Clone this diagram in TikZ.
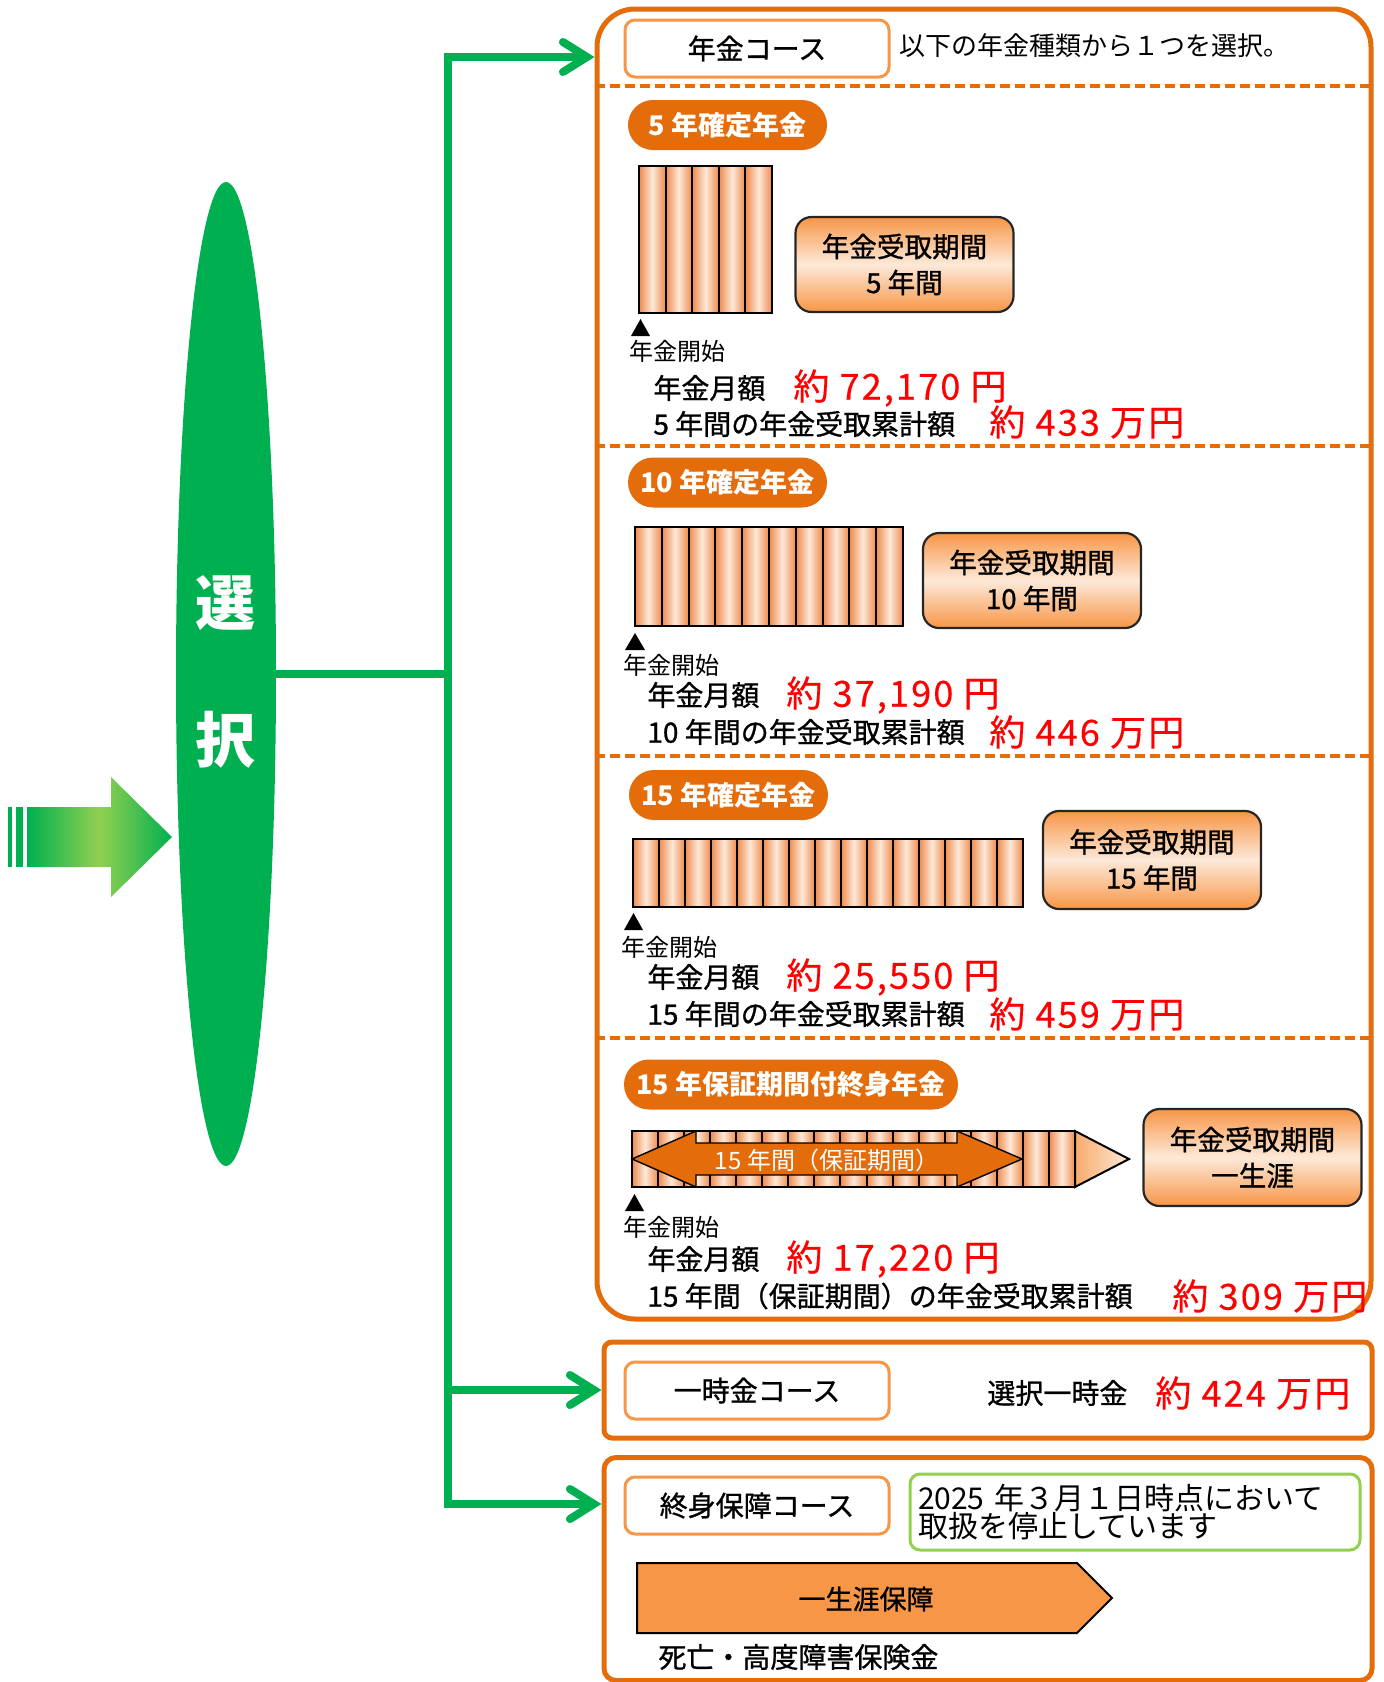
\documentclass[tikz,border=0pt]{standalone}
\usepackage{fontspec}
\setmainfont{Noto Sans CJK JP}
\newfontfamily\medfont[FakeBold=1]{Noto Sans CJK JP}
\newfontfamily\amtfont[LetterSpace=6,FakeBold=0.4]{Noto Sans CJK JP}
\usetikzlibrary{arrows.meta,shapes.geometric}
\definecolor{grn}{HTML}{00B050}
\definecolor{ltgrn}{HTML}{92D050}
\definecolor{org}{HTML}{E46C0A}
\definecolor{ltorg}{HTML}{F79646}
\definecolor{pale}{HTML}{FDE9D9}
\definecolor{bardk}{HTML}{EE8A4E}

\begin{document}
\begin{tikzpicture}[x=0.5pt,y=-0.5pt,
  flow/.style={draw=grn,line width=4pt,-{Straight Barb[length=12pt,width=15pt,line cap=round]}},
  trunk/.style={draw=grn,line width=4pt},
  bigbox/.style={draw=org,line width=2.5pt,minimum width=384pt},
  sepline/.style={draw=org,line width=2pt,dash pattern=on 5pt off 2.5pt},
  course/.style={draw=ltorg,line width=1.5pt,fill=white,rounded corners=5pt,minimum width=132pt,minimum height=28.5pt,font=\medfont\fontsize{14}{16}\selectfont},
  pill/.style={fill=org,rounded corners=12.5pt,minimum width=99.5pt,minimum height=25pt,text=white,font=\bfseries\fontsize{13.5}{15}\selectfont},
  period/.style={draw=black!85,line width=1.1pt,rounded corners=8pt,top color=ltorg,bottom color=ltorg,middle color=pale,minimum width=109pt,minimum height=47.5pt,align=center,font=\medfont\fontsize{13.8}{18}\selectfont},
  bar/.style={draw=black,line width=1pt,left color=bardk,right color=bardk,middle color=pale},
  start/.style={anchor=west,inner sep=0pt,font=\fontsize{12}{13}\selectfont},
  lbl/.style={anchor=west,inner sep=0pt,font=\medfont\fontsize{14}{16}\selectfont},
  amount/.style={anchor=west,inner sep=0pt,text=red,font=\amtfont\fontsize{18}{20}\selectfont}]
  \useasboundingbox (0,0) rectangle (1384,1682);

  \fill[grn] (8,807) rectangle (12,867);
  \fill[grn] (16,807) rectangle (23,867);
  \shade[left color=grn,right color=grn,middle color=ltgrn] (27,807) -- (111,807) -- (111,777) -- (172,837) -- (111,897) -- (111,867) -- (27,867) -- cycle;

  \node[ellipse,fill=grn,minimum width=50pt,minimum height=492pt,inner sep=0pt] (select) at (226,674) {};
  \node[text=white,font=\bfseries\fontsize{30}{32}\selectfont] (sel1) at (225,603) {選};
  \node[text=white,font=\bfseries\fontsize{30}{32}\selectfont] (sel2) at (225,740) {択};

  \node[bigbox,rounded corners=19pt,minimum width=387pt,minimum height=655pt] (pension) at (984,664) {};
  \node[bigbox,rounded corners=4pt,minimum height=48pt] (lump) at (988,1390) {};
  \node[bigbox,rounded corners=6pt,minimum height=111.5pt] (life) at (988,1569) {};

  \coordinate (top) at (448,57);
  \coordinate (bot) at (448,1504);
  \draw[trunk] (select.east) -- (select.east -| top);
  \draw[flow] (select.east -| top) -- (top) -- (top -| pension.west);
  \draw[flow] (select.east -| top) -- (bot) -- (bot -| life.west);
  \draw[flow] (top |- lump.west) -- (lump.west);

  \node[course] (c1) at (757,48.5) {年金コース};
  \node[anchor=west,inner sep=0pt,font=\fontsize{13}{15}\selectfont] (intro) at (899,46) {以下の年金種類から１つを選択。};
  \draw[sepline] (pension.west |- 0,86) -- (pension.east |- 0,86);
  \draw[sepline] (pension.west |- 0,446) -- (pension.east |- 0,446);
  \draw[sepline] (pension.west |- 0,756) -- (pension.east |- 0,756);
  \draw[sepline] (pension.west |- 0,1038) -- (pension.east |- 0,1038);

  \node[pill] (p5) at (727.5,125) {5 年確定年金};
  \foreach \i in {0,...,4} \draw[bar] ({639+26.6*\i},166) rectangle ++(26.6,147);
  \node[period] (b5) at (904.5,264.5) {年金受取期間\\5 年間};
  \fill (631,336) -- (650,336) -- (640.5,319) -- cycle;
  \node[start] (s5) at (629,351) {年金開始};
  \node[lbl] (m5) at (653,388) {年金月額};
  \node[amount] (a5) at (793,388) {約 72,170 円};
  \node[lbl] (t5) at (653,424) {5 年間の年金受取累計額};
  \node[amount] (k5) at (989,422) {約 433 万円};

  \node[pill] (p10) at (727.5,482.5) {10 年確定年金};
  \foreach \i in {0,...,9} \draw[bar] ({635+26.8*\i},527) rectangle ++(26.8,99);
  \node[period] (b10) at (1032,580.5) {年金受取期間\\10 年間};
  \fill (625,650) -- (645,650) -- (635,633) -- cycle;
  \node[start] (s10) at (623,665) {年金開始};
  \node[lbl] (m10) at (647,695) {年金月額};
  \node[amount] (a10) at (786,695) {約 37,190 円};
  \node[lbl] (t10) at (647,732) {10 年間の年金受取累計額};
  \node[amount] (k10) at (989,732) {約 446 万円};

  \node[pill] (p15) at (728.5,795) {15 年確定年金};
  \foreach \i in {0,...,14} \draw[bar] ({633+26*\i},839) rectangle ++(26,68);
  \node[period,minimum height=49pt] (b15) at (1152,860) {年金受取期間\\15 年間};
  \fill (624,930) -- (643,930) -- (633.5,913) -- cycle;
  \node[start] (s15) at (621,947) {年金開始};
  \node[lbl] (m15) at (647,977) {年金月額};
  \node[amount] (a15) at (786,977) {約 25,550 円};
  \node[lbl] (t15) at (647,1014) {15 年間の年金受取累計額};
  \node[amount] (k15) at (989,1014) {約 459 万円};

  \node[pill,minimum width=167pt] (pL) at (791,1084.5) {15 年保証期間付終身年金};
  \foreach \i in {0,...,16} \draw[bar] ({632+26.06*\i},1131) rectangle ++(26.06,56);
  \draw[line width=1pt,left color=ltorg!80,right color=pale] (1075,1131) -- (1129,1159) -- (1075,1187) -- cycle;
  \draw[fill=org,line width=0.7pt] (632,1159) -- (696,1131) -- (696,1143) -- (957,1143) -- (957,1131) -- (1022,1159) -- (957,1187) -- (957,1175) -- (696,1175) -- (696,1187) -- cycle;
  \node[text=white,font=\fontsize{12}{14}\selectfont] (guar) at (827,1160) {15 年間（保証期間）};
  \node[period,minimum height=48.5pt] (bL) at (1252.5,1157.5) {年金受取期間\\一生涯};
  \fill (625,1211) -- (644,1211) -- (634.5,1194) -- cycle;
  \node[start] (sL) at (623,1227) {年金開始};
  \node[lbl] (mL) at (647,1259) {年金月額};
  \node[amount] (aL) at (786,1259) {約 17,220 円};
  \node[lbl] (tL) at (647,1296) {15 年間（保証期間）の年金受取累計額};
  \node[amount] (kL) at (1172,1296) {約 309 万円};

  \node[course] (c2) at (757,1390.5) {一時金コース};
  \node[lbl] (m2) at (987,1393) {選択一時金};
  \node[amount] (a2) at (1155,1393) {約 424 万円};

  \node[course] (c3) at (757,1505.5) {終身保障コース};
  \node[draw=ltgrn,line width=1.5pt,rounded corners=5pt,minimum width=225pt,minimum height=38pt,text width=217pt,inner xsep=4pt,align=left,font=\fontsize{15}{14}\selectfont] (note) at (1135,1512) {2025 年３月１日時点において\\取扱を停止しています};
  \draw[fill=ltorg,line width=1pt] (637,1563) -- (1077,1563) -- (1112,1598) -- (1077,1633) -- (637,1633) -- cycle;
  \node[font=\medfont\fontsize{13.5}{15}\selectfont] (whole) at (866,1599) {一生涯保障};
  \node[lbl] (death) at (658,1657) {死亡・高度障害保険金};
\end{tikzpicture}
\end{document}
